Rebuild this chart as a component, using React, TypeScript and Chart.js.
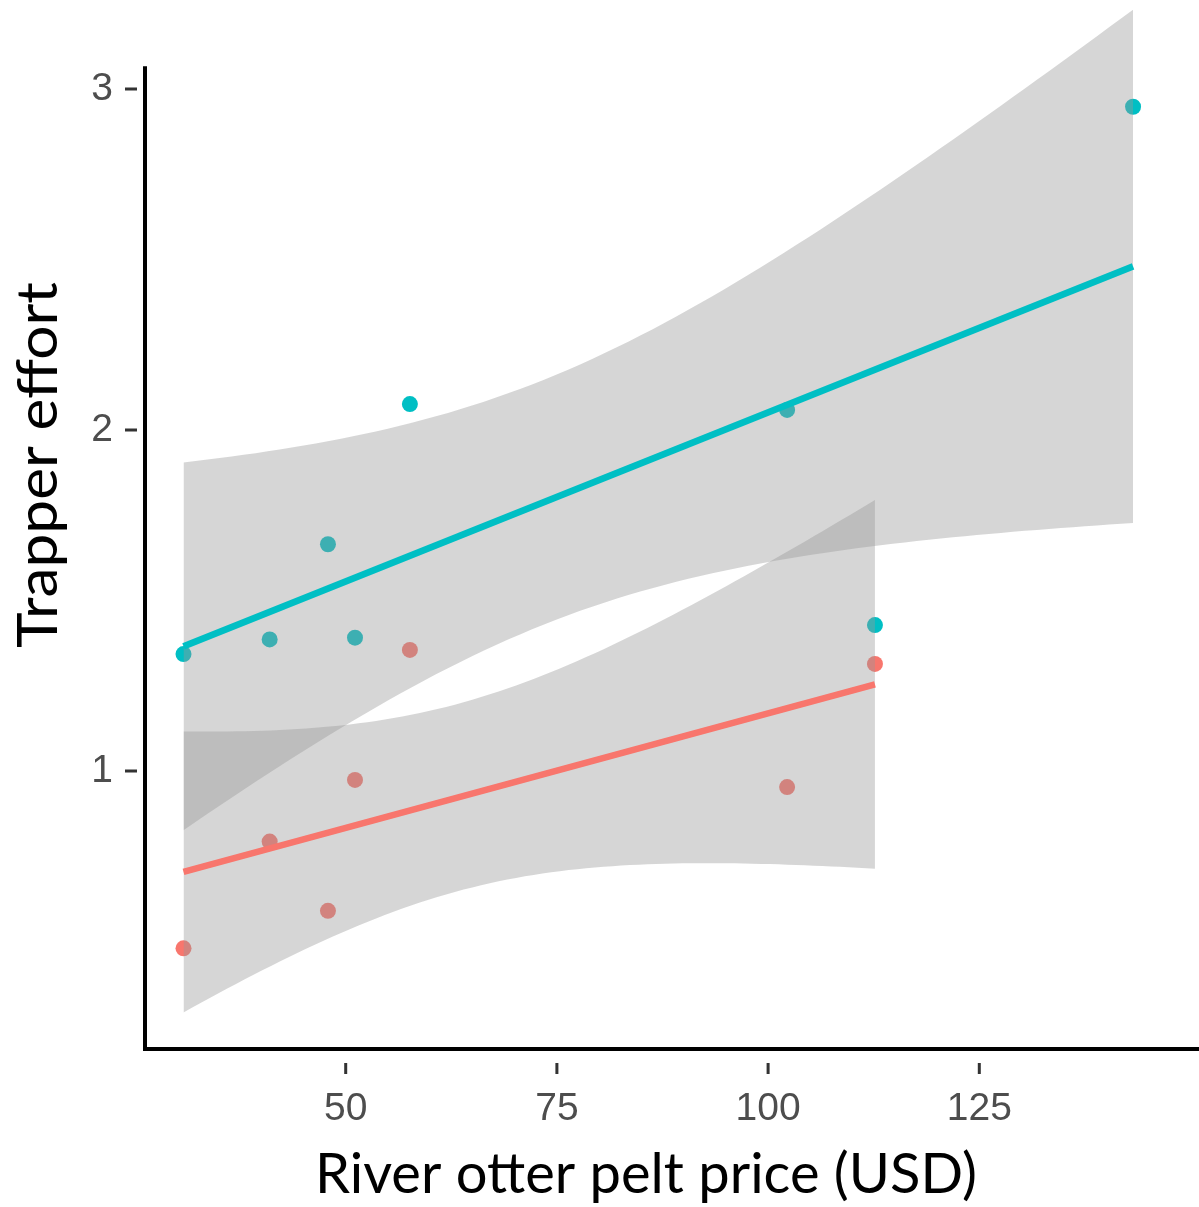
import React, { useEffect, useRef } from "react";
import { Chart, registerables } from "chart.js";

Chart.register(...registerables);

// ---- data ----
const PELT_PRICE = [30.8, 41.0, 47.9, 51.1, 57.6, 102.25, 112.65, 143.2];
const EFFORT_TEAL = [1.343, 1.386, 1.665, 1.391, 2.076, 2.059, 1.428, 2.948];
const EFFORT_RED: (number | null)[] = [0.48, 0.793, 0.59, 0.974, 1.355, 0.953, 1.314, null];

const X_TICKS = [50, 75, 100, 125];
const Y_TICKS = [1, 2, 3];
const X_RANGE = [26.243, 151.006];
const Y_RANGE = [0.1848, 3.2463];
const Y_AXIS_TOP = 3.067;
// Student t quantiles (0.975) for the 95% confidence band, by degrees of freedom
const T_975: Record<number, number> = { 5: 2.5706, 6: 2.4469 };

const X_TITLE = "River otter pelt price (USD)";
const Y_TITLE = "Trapper effort";

const TEAL = "#00BFC4";
const RED = "#F8766D";
const BAND = "rgba(153,153,153,0.4)";

type P = { x: number; y: number };

function lmFit(xs: number[], ys: (number | null)[]) {
  const pts = xs.map((x, i) => [x, ys[i]] as [number, number | null]).filter((p) => p[1] != null) as [number, number][];
  const n = pts.length;
  const mx = pts.reduce((a, p) => a + p[0], 0) / n;
  const my = pts.reduce((a, p) => a + p[1], 0) / n;
  let sxx = 0, sxy = 0;
  pts.forEach(([x, y]) => { sxx += (x - mx) ** 2; sxy += (x - mx) * (y - my); });
  const b = sxy / sxx;
  const a = my - b * mx;
  let sse = 0;
  pts.forEach(([x, y]) => { sse += (y - (a + b * x)) ** 2; });
  const s = Math.sqrt(sse / (n - 2));
  const t = T_975[n - 2];
  const lo = Math.min(...pts.map((p) => p[0]));
  const hi = Math.max(...pts.map((p) => p[0]));
  const N = 80;
  const fit: P[] = [], upper: P[] = [], lower: P[] = [];
  for (let k = 0; k < N; k++) {
    const x = lo + ((hi - lo) * k) / (N - 1);
    const yh = a + b * x;
    const se = s * Math.sqrt(1 / n + (x - mx) ** 2 / sxx);
    fit.push({ x, y: yh });
    upper.push({ x, y: yh + t * se });
    lower.push({ x, y: yh - t * se });
  }
  const points: P[] = pts.map(([x, y]) => ({ x, y }));
  return { fit: [fit[0], fit[N - 1]], upper, lower, points };
}

function drawTitle(ctx: any, text: string, cx: number, cy: number, length: number, rotate: boolean) {
  const w = ctx.measureText(text).width;
  ctx.save();
  ctx.translate(cx, cy);
  if (rotate) ctx.rotate(-Math.PI / 2);
  ctx.scale(length / w, 1);
  ctx.fillText(text, 0, 0);
  ctx.restore();
}

const axisPlugin = {
  id: "ggAxes",
  afterDraw(chart: any) {
    const { ctx, chartArea, scales } = chart;
    const xs = scales.x, ys = scales.y;
    const ax = chartArea.left, ay = chartArea.bottom;
    ctx.save();
    ctx.strokeStyle = "#000";
    ctx.lineWidth = 4;
    ctx.lineCap = "butt";
    ctx.beginPath();
    ctx.moveTo(ax, ys.getPixelForValue(Y_AXIS_TOP));
    ctx.lineTo(ax, ay + 2);
    ctx.moveTo(ax - 2, ay);
    ctx.lineTo(chartArea.right, ay);
    ctx.stroke();

    ctx.strokeStyle = "#333333";
    ctx.lineWidth = 3;
    ctx.beginPath();
    for (const v of Y_TICKS) {
      const p = ys.getPixelForValue(v);
      ctx.moveTo(ax - 20, p);
      ctx.lineTo(ax - 8, p);
    }
    for (const v of X_TICKS) {
      const p = xs.getPixelForValue(v);
      ctx.moveTo(p, ay + 14);
      ctx.lineTo(p, ay + 25);
    }
    ctx.stroke();

    ctx.fillStyle = "#000";
    ctx.font = "57px Lato, 'Open Sans', sans-serif";
    ctx.textAlign = "center";
    ctx.textBaseline = "alphabetic";
    drawTitle(ctx, X_TITLE, 646, 1193, 662, false);
    drawTitle(ctx, Y_TITLE, 57, 465, 366, true);
    ctx.restore();
  },
};

export default function App() {
  const ref = useRef<HTMLCanvasElement | null>(null);
  useEffect(() => {
    if (!ref.current) return;
    const red = lmFit(PELT_PRICE, EFFORT_RED);
    const teal = lmFit(PELT_PRICE, EFFORT_TEAL);
    const ribbon = (data: P[], fill: any) => ({
      type: "scatter" as const,
      data,
      showLine: true,
      fill,
      backgroundColor: BAND,
      borderColor: "rgba(0,0,0,0)",
      borderWidth: 0,
      pointRadius: 0,
      tension: 0,
      order: 2,
    });
    const fitLine = (data: P[], color: string) => ({
      type: "scatter" as const,
      data,
      showLine: true,
      fill: false,
      borderColor: color,
      borderWidth: 6.5,
      borderCapStyle: "butt",
      pointRadius: 0,
      order: 1,
    });
    const pts = (data: P[], color: string) => ({
      type: "scatter" as const,
      data,
      showLine: false,
      pointRadius: 8,
      pointHoverRadius: 8,
      pointBorderWidth: 0,
      pointBackgroundColor: color,
      borderColor: color,
      backgroundColor: color,
      order: 3,
    });
    const tickFont = { family: "'Liberation Sans', Arial, sans-serif", size: 39 };
    const zeroPad = (s: any) => {
      s.paddingLeft = 0;
      s.paddingRight = 0;
      s.paddingTop = 0;
      s.paddingBottom = 0;
    };
    const chart = new Chart(ref.current, {
      type: "scatter",
      data: {
        datasets: [
          ribbon(red.upper, "+1"),
          ribbon(red.lower, false),
          ribbon(teal.upper, "+1"),
          ribbon(teal.lower, false),
          fitLine(red.fit, RED),
          fitLine(teal.fit, TEAL),
          pts(red.points, RED),
          pts(teal.points, TEAL),
        ] as any,
      },
      options: {
        responsive: false,
        animation: false,
        devicePixelRatio: 1,
        layout: { autoPadding: false, padding: { top: 5, left: 0, right: 0, bottom: 0 } },
        plugins: { legend: { display: false }, tooltip: { enabled: false } },
        events: [],
        scales: {
          x: {
            type: "linear",
            min: X_RANGE[0],
            max: X_RANGE[1],
            grid: { display: false },
            border: { display: false },
            afterBuildTicks: (s: any) => {
              s.ticks = X_TICKS.map((v) => ({ value: v }));
            },
            afterFit: (s: any) => {
              s.height = 158;
              zeroPad(s);
            },
            ticks: {
              font: tickFont,
              color: "#4D4D4D",
              padding: 29,
              maxRotation: 0,
              autoSkip: false,
              callback: (v: any) => String(v),
            },
          },
          y: {
            type: "linear",
            min: Y_RANGE[0],
            max: Y_RANGE[1],
            grid: { display: false },
            border: { display: false },
            afterBuildTicks: (s: any) => {
              s.ticks = Y_TICKS.map((v) => ({ value: v }));
            },
            afterFit: (s: any) => {
              s.width = 145;
              zeroPad(s);
            },
            ticks: {
              font: tickFont,
              color: "#4D4D4D",
              padding: 24,
              autoSkip: false,
              callback: (v: any) => String(v),
            },
          },
        },
      } as any,
      plugins: [axisPlugin],
    });
    return () => chart.destroy();
  }, []);
  return (
    <div style={{ position: "fixed", left: 0, top: 0, width: 1199, height: 1207, background: "#fff" }}>
      <canvas ref={ref} width={1199} height={1207} style={{ display: "block" }} />
    </div>
  );
}
